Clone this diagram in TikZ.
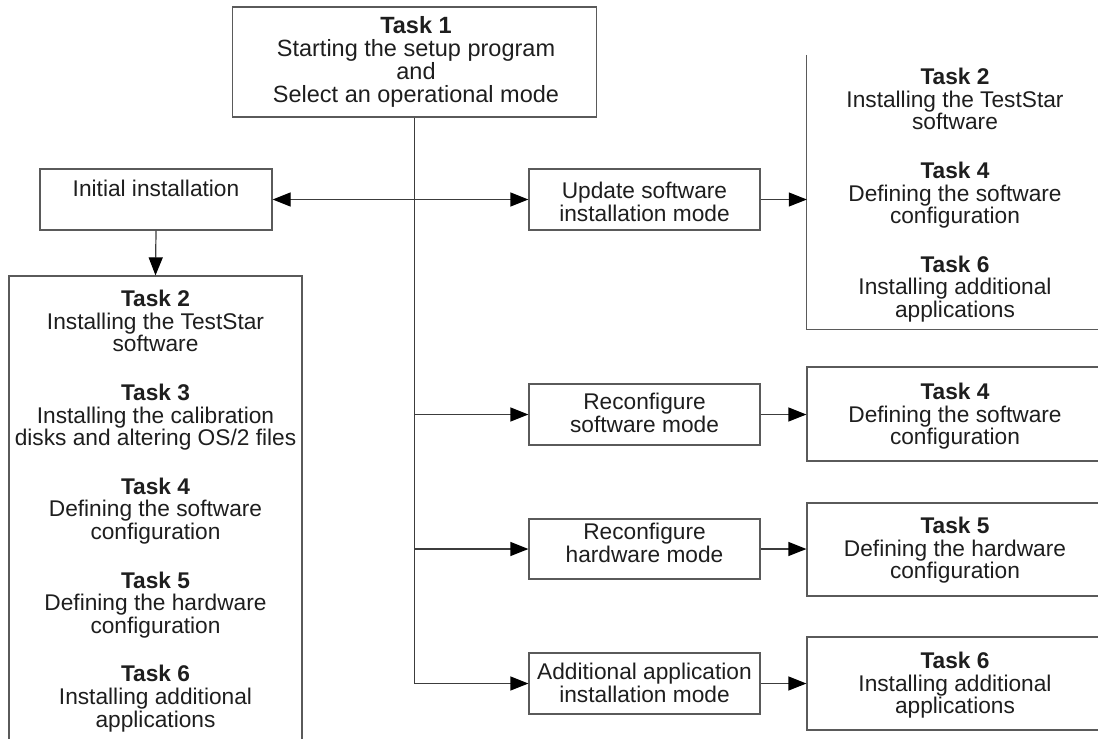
\documentclass[tikz,border=0pt]{standalone}
\usepackage{fontspec}
\setmainfont{Liberation Sans}
\usetikzlibrary{arrows.meta}
\definecolor{boxgray}{HTML}{5A5A5A}
\definecolor{linegray}{HTML}{3C3C3C}
\definecolor{txtcol}{HTML}{1E1E1E}
\tikzset{
  box/.style={draw=boxgray, line width=1.2pt, rectangle, inner sep=0pt},
  openbox/.style={draw=none, rectangle, inner sep=0pt},
  boxline/.style={draw=boxgray, line width=1.2pt},
  txt/.style={text=txtcol, align=center, inner sep=0pt, anchor=north,
    font=\fontsize{22.7}{22.6}\selectfont},
  bigtxt/.style={txt, font=\fontsize{23.5}{23}\selectfont},
  conn/.style={draw=linegray, line width=1.2pt},
  arr/.style={conn, -{Triangle[length=18pt 0 0,width=14pt 0 0,color=black]}},
}
\begin{document}
\begin{tikzpicture}[x=1pt,y=-1pt]
\useasboundingbox (0,0) rectangle (1098,739);
\clip (0,0) rectangle (1098,739);
\fill[white] (0,0) rectangle (1098,739);

% boxes
\node[box, minimum width=364pt, minimum height=110pt] (t1) at (414.5,62) {};
\node[box, minimum width=232pt, minimum height=61pt] (init) at (156,199.5) {};
\node[box, minimum width=293pt, minimum height=504pt] (left) at (155.5,528) {};
\node[box, minimum width=231pt, minimum height=61pt] (upd) at (644.5,199.5) {};
\node[box, minimum width=231pt, minimum height=61pt] (rsw) at (644.5,414.5) {};
\node[box, minimum width=231pt, minimum height=60pt] (rhw) at (644.5,549) {};
\node[box, minimum width=231pt, minimum height=61pt] (add) at (644.5,683.5) {};
\node[openbox, minimum width=296pt, minimum height=274pt] (r1) at (955,192) {};
\draw[boxline] (r1.north west) -- (r1.south west) -- (r1.south east);
\node[box, minimum width=296pt, minimum height=94pt] (r2) at (955,414) {};
\node[box, minimum width=296pt, minimum height=93pt] (r3) at (955,549.5) {};
\node[box, minimum width=296pt, minimum height=93pt] (r4) at (955,683.5) {};

% texts
\node[bigtxt] (t1t) at (416,16) {\textbf{Task 1}\\Starting the setup program\\and\\Select an operational mode};
\node[txt] (initt) at (156,180) {Initial installation};
\node[txt] (leftt) at (155.5,290) {\textbf{Task 2}\\Installing the TestStar\\software\\[26pt]
  \textbf{Task 3}\\Installing the calibration\\disks and altering OS/2 files\\[26pt]
  \textbf{Task 4}\\Defining the software\\configuration\\[26pt]
  \textbf{Task 5}\\Defining the hardware\\configuration\\[26pt]
  \textbf{Task 6}\\Installing additional\\applications};
\node[txt] (updt) at (644.5,182) {Update software\\installation mode};
\node[txt] (rswt) at (644.5,393) {Reconfigure\\software mode};
\node[txt] (rhwt) at (644.5,523) {Reconfigure\\hardware mode};
\node[txt] (addt) at (644.5,663) {Additional application\\installation mode};
\node[txt] (r1t) at (955,68) {\textbf{Task 2}\\Installing the TestStar\\software\\[26pt]
  \textbf{Task 4}\\Defining the software\\configuration\\[26pt]
  \textbf{Task 6}\\Installing additional\\applications};
\node[txt] (r2t) at (955,383) {\textbf{Task 4}\\Defining the software\\configuration};
\node[txt] (r3t) at (955,517) {\textbf{Task 5}\\Defining the hardware\\configuration};
\node[txt] (r4t) at (955,652) {\textbf{Task 6}\\Installing additional\\applications};

% connectors
\draw[arr] (t1.south) |- (add.west);
\draw[arr] (t1.south |- upd.west) -- (upd.west);
\draw[arr] (t1.south |- upd.west) -- (init.east);
\draw[arr] (t1.south |- rsw.west) -- (rsw.west);
\draw[arr] (t1.south |- rhw.west) -- (rhw.west);
\draw[arr] (init.south) -- (left.north);
\draw[arr] (upd.east) -- (upd.east -| r1.west);
\draw[arr] (rsw.east) -- (rsw.east -| r2.west);
\draw[arr] (rhw.east) -- (rhw.east -| r3.west);
\draw[arr] (add.east) -- (add.east -| r4.west);
\end{tikzpicture}
\end{document}
